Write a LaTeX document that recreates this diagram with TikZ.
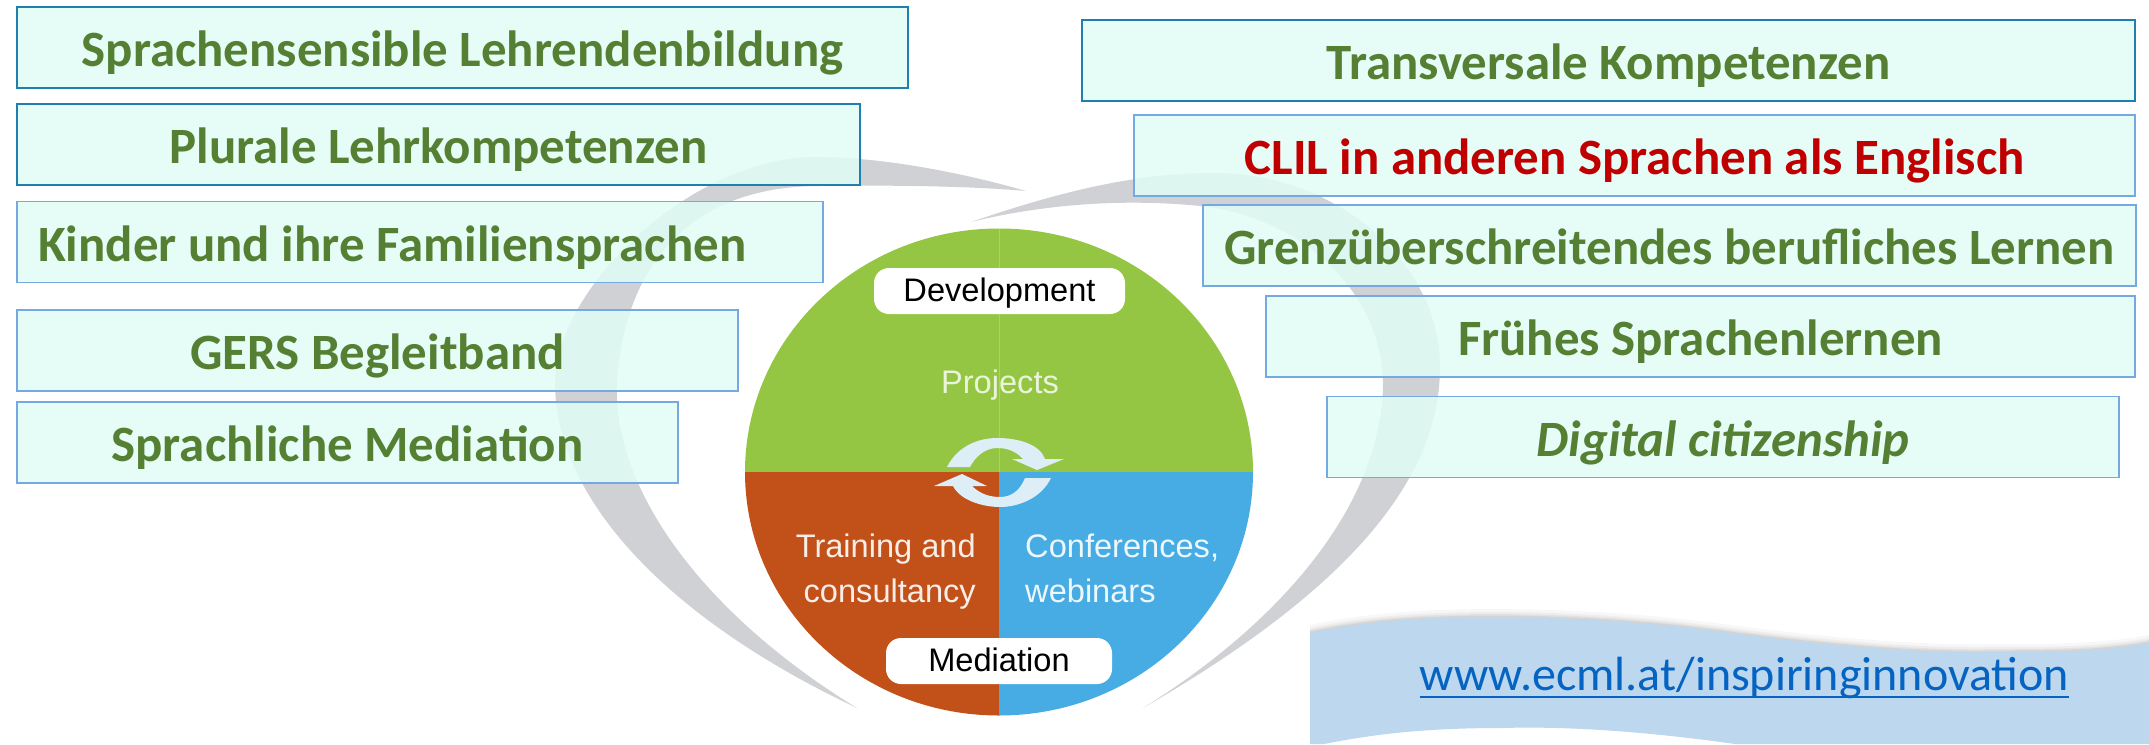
\documentclass[tikz,border=0pt]{standalone}
\usepackage{fontspec}
\setmainfont{Carlito}
\newfontfamily\arialf{Liberation Sans}
\definecolor{boxfill}{HTML}{E0FDF5}
\definecolor{darkedge}{HTML}{1F7FB0}
\definecolor{lightedge}{HTML}{74A9E2}
\definecolor{txtgreen}{HTML}{558033}
\definecolor{txtred}{HTML}{C00000}
\definecolor{swoosh}{HTML}{CFD1D4}
\definecolor{cgreen}{HTML}{94C643}
\definecolor{cbrown}{HTML}{C25019}
\definecolor{cblue}{HTML}{47ABE4}
\definecolor{cyc}{HTML}{DDEEF7}
\definecolor{band}{HTML}{BDD7EE}
\definecolor{urlblue}{HTML}{0563C1}
\tikzset{
  x=1pt,y=1pt,
  topicbox/.style={draw=lightedge,line width=1.4pt,fill=boxfill,fill opacity=.85,text opacity=1,draw opacity=1,
    inner sep=0pt,minimum height=81pt,text height=45pt,text depth=7pt,
    font=\fontsize{50.9}{55}\selectfont\bfseries,text=txtgreen,anchor=center},
  darkbox/.style={topicbox,draw=darkedge},
  pill/.style={fill=white,rounded corners=15pt,inner sep=0pt,minimum width=#1,minimum height=46pt,
    font=\arialf\fontsize{32.6}{36}\selectfont,text=black,text height=25pt,text depth=5pt},
  ctext/.style={font=\arialf\fontsize{32.6}{45}\selectfont,inner sep=0pt,text=#1},
}
\begin{document}
\begin{tikzpicture}
\useasboundingbox (0,0) rectangle (2149,-744);
% swooshes
\fill[swoosh] (1026,-191) .. controls (960,-172) and (880,-157) .. (816,-157)
  .. controls (690,-157) and (555,-290) .. (555,-383)
  .. controls (555,-500) and (670,-620) .. (857,-708)
  .. controls (705,-615) and (612,-490) .. (617,-383)
  .. controls (622,-290) and (670,-186) .. (820,-186)
  .. controls (890,-185) and (970,-186) .. (1026,-191) -- cycle;
\fill[swoosh] (971,-222) .. controls (1050,-195) and (1130,-173) .. (1213,-173)
  .. controls (1340,-173) and (1440,-265) .. (1440,-367)
  .. controls (1440,-490) and (1330,-600) .. (1143,-708)
  .. controls (1300,-610) and (1383,-490) .. (1383,-383)
  .. controls (1383,-300) and (1310,-218) .. (1200,-206)
  .. controls (1120,-198) and (1040,-205) .. (971,-222) -- cycle;
% circle
\fill[cgreen] (745,-472) arc[start angle=180,end angle=0,x radius=254,y radius=243.5] -- cycle;
\fill[cbrown] (745,-472) arc[start angle=180,end angle=270,x radius=254,y radius=243.5] -- (999,-472) -- cycle;
\fill[cblue] (1253,-472) arc[start angle=0,end angle=-90,x radius=254,y radius=243.5] -- (999,-472) -- cycle;
\draw[white!85!cgreen,opacity=.25,line width=1pt] (999,-228.5) -- (999,-472);
% cycle arrows
\fill[cyc] (947,-467) .. controls (958,-445) and (980,-438) .. (997,-438)
  .. controls (1020,-438) and (1040,-445) .. (1045,-459)
  -- (1064,-459) -- (1037,-470) -- (1012,-459) -- (1023,-459)
  .. controls (1015,-450) and (1005,-448) .. (997,-448)
  .. controls (985,-448) and (975,-457) .. (970,-467) -- cycle;
\fill[cyc] (1051,-478) .. controls (1042,-497) and (1020,-507) .. (1000,-507)
  .. controls (982,-507) and (960,-500) .. (953,-486)
  -- (934,-486) -- (962,-474) -- (987,-486) -- (972,-486)
  .. controls (980,-494) and (990,-497) .. (1000,-497)
  .. controls (1012,-497) and (1020,-490) .. (1025,-478) -- cycle;
% pills and labels
\node[pill=251pt] (dev) at (999.5,-291) {Development};
\node[pill=226pt] (med) at (999,-661) {Mediation};
\node[ctext=white!80!cgreen,anchor=base] (proj) at (1000,-393) {Projects};
\node[ctext=white!90!cbrown,anchor=base east,align=right] (train) at (976,-602) {Training and\\consultancy};
\node[ctext=white!90!cblue,anchor=base west,align=left] (conf) at (1025,-602) {Conferences,\\webinars};
% band
\foreach \o/\a in {8/.03,5/.04,3/.05,1.5/.06}{
  \fill[black,opacity=\a,yshift=\o pt] (1310,-633) .. controls (1370,-620) and (1430,-617) .. (1502,-617)
    .. controls (1600,-618) and (1670,-625) .. (1723,-632)
    .. controls (1820,-645) and (1920,-654) .. (1999,-652)
    .. controls (2050,-652) and (2100,-652) .. (2149,-643) -- (2149,-670) -- (1310,-670) -- cycle;
}
\fill[band] (1310,-633) .. controls (1370,-620) and (1430,-617) .. (1502,-617)
    .. controls (1600,-618) and (1670,-625) .. (1723,-632)
    .. controls (1820,-645) and (1920,-654) .. (1999,-652)
    .. controls (2050,-652) and (2100,-652) .. (2149,-643)
    -- (2149,-744) -- (1735,-744) .. controls (1650,-732) and (1570,-726) .. (1502,-728)
    .. controls (1420,-728) and (1370,-735) .. (1324,-744) -- (1310,-744) -- cycle;
\node[anchor=base,inner sep=0pt,text=urlblue,font=\fontsize{48}{52}\selectfont] (url) at (1744.5,-690) {www.ecml.at/inspiringinnovation};
\draw[urlblue,line width=2.6pt] ([yshift=-7pt]url.base west) -- ([yshift=-7pt]url.base east);
% boxes
\node[darkbox,minimum width=891pt] (b1) at (462.5,-47.5) {Sprachensensible Lehrendenbildung};
\node[darkbox,minimum width=843pt] (b2) at (438.5,-144.5) {Plurale Lehrkompetenzen};
\node[topicbox,minimum width=806pt,text width=764pt,align=flush left] (b3) at (420,-242) {Kinder und ihre Familiensprachen};
\node[topicbox,minimum width=721pt] (b4) at (377.5,-350.5) {GERS Begleitband};
\node[topicbox,minimum width=661pt] (b5) at (347.5,-442.5) {Sprachliche Mediation};
\node[darkbox,minimum width=1053pt] (r1) at (1608.5,-60.5) {Transversale Kompetenzen};
\node[topicbox,minimum width=1001pt,text=txtred] (r2) at (1634.5,-155.5) {CLIL in anderen Sprachen als Englisch};
\node[topicbox,minimum width=933pt] (r3) at (1669.5,-245.5) {Grenzüberschreitendes berufliches Lernen};
\node[topicbox,minimum width=869pt] (r4) at (1700.5,-336.5) {Frühes Sprachenlernen};
\node[topicbox,minimum width=792pt,font=\fontsize{50.9}{55}\selectfont\bfseries\itshape] (r5) at (1723,-437) {Digital citizenship};
\end{tikzpicture}
\end{document}
